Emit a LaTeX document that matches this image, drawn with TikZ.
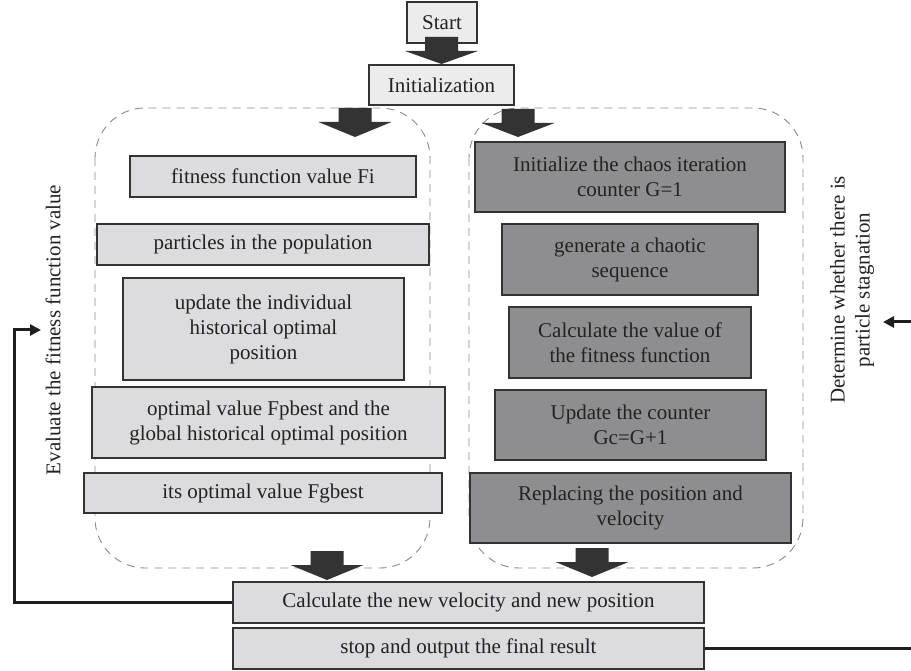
\documentclass[tikz,border=0pt]{standalone}
\usepackage{fontspec}
\setmainfont{Liberation Serif}
\usetikzlibrary{arrows.meta}
\definecolor{lightfill}{HTML}{DCDCDE}
\definecolor{topfill}{HTML}{ECECEC}
\definecolor{darkfill}{HTML}{8E8E90}
\definecolor{edgecol}{HTML}{333333}
\definecolor{arrowcol}{HTML}{333333}
\definecolor{dashcol}{HTML}{8A8A8A}
\definecolor{textcol}{HTML}{222222}
\tikzset{
  boxbase/.style={draw=edgecol, line width=1.2pt, rectangle, inner sep=0pt, align=center,
    font=\fontsize{21}{25}\selectfont, text=textcol},
  topbox/.style={boxbase, fill=topfill},
  lbox/.style={boxbase, fill=lightfill},
  dbox/.style={boxbase, fill=darkfill},
  region/.style={draw=dashcol, line width=0.9pt, dash pattern=on 8pt off 6pt, rounded corners=50pt},
  loopline/.style={draw=black!88, line width=3pt},
  sidetext/.style={font=\fontsize{21}{25}\selectfont, align=center, text=textcol, rotate=90}
}
\newcommand{\blockarrow}[3]{%
  \fill[arrowcol] (#1-16.5,#2) -- (#1+16.5,#2) -- (#1+16.5,#2+14) -- (#1+36.5,#2+14)
    -- (#1,#3) -- (#1-36.5,#2+14) -- (#1-16.5,#2+14) -- cycle;}
\begin{document}
\begin{tikzpicture}[x=1pt,y=-1pt]
\useasboundingbox (0,0) rectangle (911,671);

% dashed regions
\draw[region] (95,108) rectangle (430,568);
\draw[region] (469,108) rectangle (803,568);

% top nodes
\node[topbox, minimum width=70pt, minimum height=41pt] (start) at (442,22.5) {Start};
\node[topbox, minimum width=145pt, minimum height=40pt] (init) at (441.5,85) {Initialization};

% block arrows
\blockarrow{441.5}{37}{64}
\blockarrow{355}{108}{137}
\blockarrow{518}{109}{137}
\blockarrow{327}{551}{580}
\blockarrow{592}{548}{577}

% left column
\node[lbox, minimum width=286pt, minimum height=41pt] (l1) at (273,176.5) {fitness function value Fi};
\node[lbox, minimum width=332pt, minimum height=41pt] (l2) at (263,244.5) {particles in the population};
\node[lbox, minimum width=281pt, minimum height=102pt] (l3) at (263.5,329) {update the individual\\historical optimal\\position};
\node[lbox, minimum width=353pt, minimum height=71pt] (l4) at (268.5,422.5) {optimal value Fpbest and the\\global historical optimal position};
\node[lbox, minimum width=358pt, minimum height=40pt] (l5) at (263,493) {its optimal value Fgbest};

% right column
\node[dbox, minimum width=310pt, minimum height=70pt] (r1) at (630,177) {Initialize the chaos iteration\\counter G=1};
\node[dbox, minimum width=256pt, minimum height=71pt] (r2) at (630,259.5) {generate a chaotic\\sequence};
\node[dbox, minimum width=242pt, minimum height=71pt] (r3) at (630,342.5) {Calculate the value of\\the fitness function};
\node[dbox, minimum width=271pt, minimum height=70pt] (r4) at (630.5,425) {Update the counter\\Gc=G+1};
\node[dbox, minimum width=321pt, minimum height=70pt] (r5) at (630.5,508) {Replacing the position and\\velocity};

% bottom nodes
\node[lbox, minimum width=471pt, minimum height=41pt] (calc) at (468.5,602.5) {Calculate the new velocity and new position};
\node[lbox, minimum width=471pt, minimum height=41pt] (stop) at (468.5,648.5) {stop and output the final result};

% side texts
\node[sidetext] (evaltxt) at (53,330) {Evaluate the fitness function value};
\node[sidetext] (stagtxt) at (852,290) {Determine whether there is\\particle stagnation};

% feedback loops
\coordinate (lc1) at (14,602.5);
\coordinate (lc2) at (14,330);
\coordinate (lend) at (41,330);
\draw[loopline, -{Triangle[length=11pt,width=11pt]}] (calc.west) -- (lc1) -- (lc2) -- (lend);

\coordinate (rend) at (911,648.5);
\draw[loopline] (stop.east) -- (rend);
\coordinate (rin) at (911,322);
\coordinate (rtip) at (883,322);
\draw[loopline, -{Triangle[length=11pt,width=11pt]}] (rin) -- (rtip);
\end{tikzpicture}
\end{document}
